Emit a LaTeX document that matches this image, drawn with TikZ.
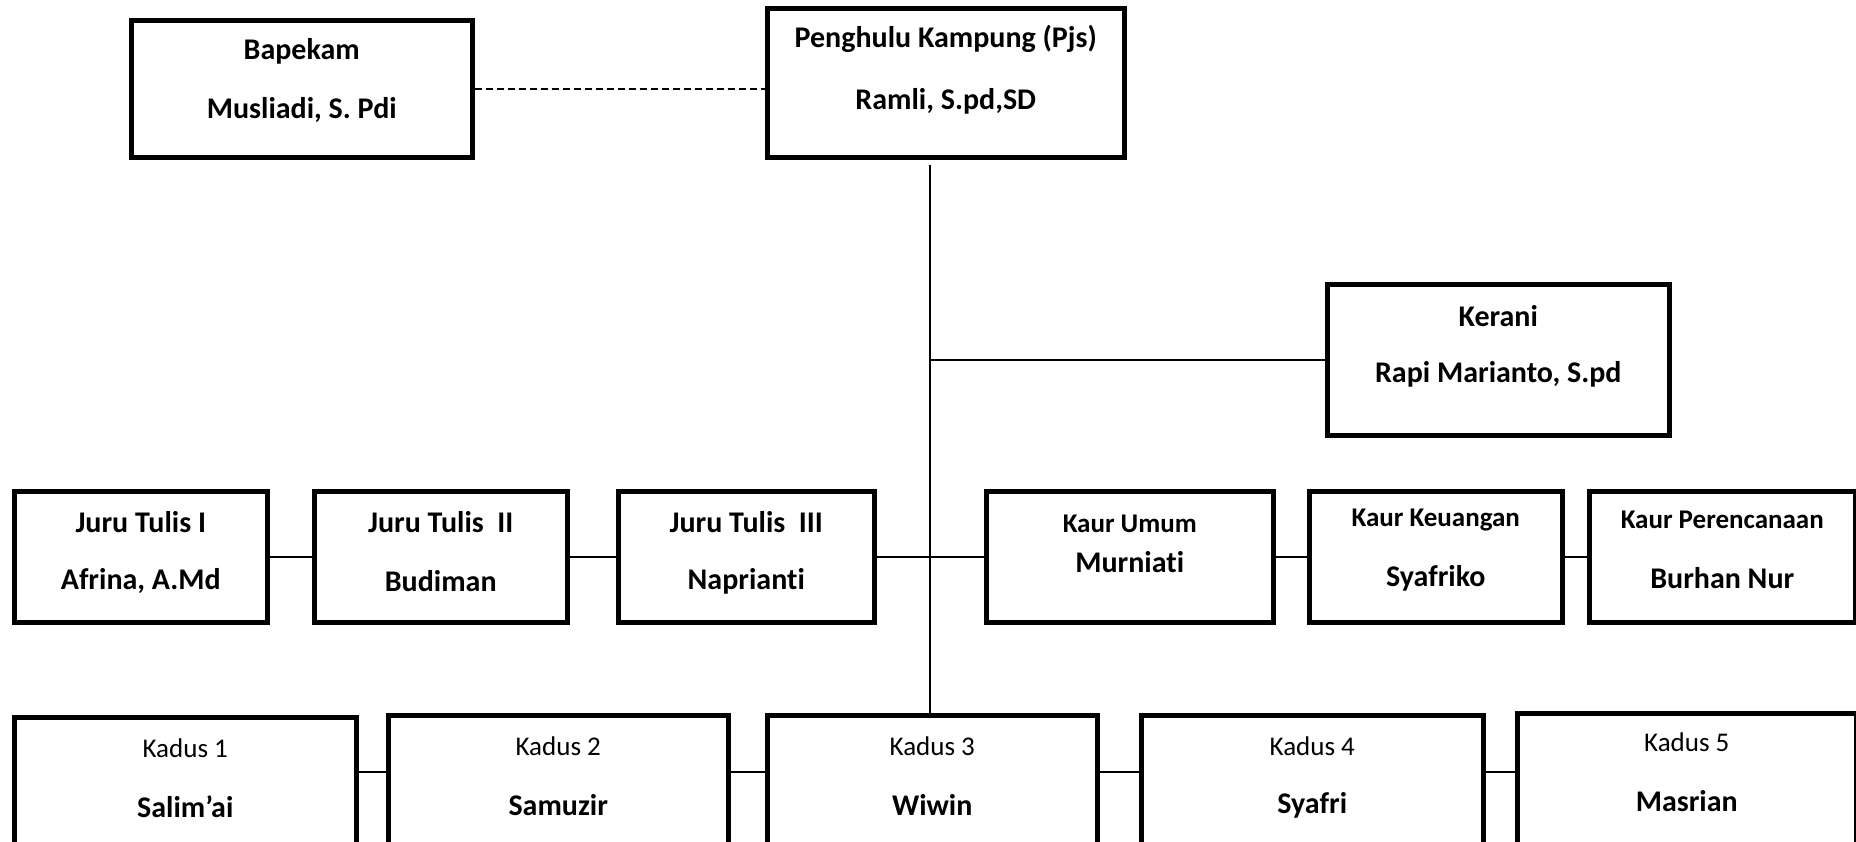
\documentclass[tikz,border=0pt]{standalone}
\usepackage{fontspec}
\setmainfont{Carlito}[RawFeature={-liga;-clig;-calt;-dlig}]
\usetikzlibrary{positioning}

\tikzset{
  box/.style={draw, line width=4.5pt, anchor=north west, inner sep=0pt},
  head/.style={inner sep=0pt, font=\fontsize{30}{36}\selectfont\bfseries},
  kaur/.style={inner sep=0pt, font=\fontsize{27}{32}\selectfont\bfseries},
  dusun/.style={inner sep=0pt, font=\fontsize{27}{32}\selectfont},
  link/.style={line width=1.6pt}
}

\begin{document}
\begin{tikzpicture}[ x=1pt, y=-1pt ]
	  \clip (0,0) rectangle (1856,841);
	  \fill [ white ] (0,0) rectangle (1856,841);

	  % atas
	  \node [ box, minimum width=357pt, minimum height=149pt ] (penghulu) at (765,6) {};
	  \node [ head ] at ([yshift=-33pt]penghulu.north) {Penghulu Kampung (Pjs)};
	  \node [ head ] at ([yshift=-95pt]penghulu.north) {Ramli, S.pd,SD};

	  \node [ box, minimum width=341pt, minimum height=137pt ] (bapekam) at (129,18) {};
	  \node [ head ] at ([yshift=-33pt]bapekam.north) {Bapekam};
	  \node [ head ] at ([yshift=-92pt]bapekam.north) {Musliadi, S. Pdi};

	  \node [ box, minimum width=342pt, minimum height=151pt ] (kerani) at (1325,282) {};
	  \node [ head ] at ([yshift=-34pt]kerani.north) {Kerani};
	  \node [ head ] at ([yshift=-92pt]kerani.north) {Rapi Marianto, S.pd};

	  % juru tulis dan kaur
	  \node [ box, minimum width=253pt, minimum height=131pt ] (tulisA) at (12,489) {};
	  \node [ head ] at ([yshift=-33pt]tulisA.north) {Juru Tulis I};
	  \node [ head ] at ([yshift=-92pt]tulisA.north) {Afrina, A.Md};

	  \node [ box, minimum width=253pt, minimum height=131pt ] (tulisB) at (312,489) {};
	  \node [ head ] at ([yshift=-33pt]tulisB.north) {Juru Tulis\ \ II};
	  \node [ head ] at ([yshift=-92pt]tulisB.north) {Budiman};

	  \node [ box, minimum width=256pt, minimum height=131pt ] (tulisC) at (616,489) {};
	  \node [ head ] at ([yshift=-33pt]tulisC.north) {Juru Tulis\ \ III};
	  \node [ head ] at ([yshift=-92pt]tulisC.north) {Naprianti};

	  \node [ box, minimum width=287pt, minimum height=131pt ] (umum) at (984,489) {};
	  \node [ kaur ] at ([yshift=-35pt]umum.north) {Kaur Umum};
	  \node [ head ] at ([yshift=-73pt]umum.north) {Murniati};

	  \node [ box, minimum width=253pt, minimum height=131pt ] (uang) at (1307,489) {};
	  \node [ kaur ] at ([yshift=-31pt]uang.north) {Kaur Keuangan};
	  \node [ head ] at ([yshift=-89pt]uang.north) {Syafriko};

	  \node [ box, minimum width=266pt, minimum height=131pt ] (rencana) at (1587,489) {};
	  \node [ kaur ] at ([yshift=-31pt]rencana.north) {Kaur Perencanaan};
	  \node [ head ] at ([yshift=-89pt]rencana.north) {Burhan Nur};

	  % kadus
	  \node [ box, minimum width=342pt, minimum height=170pt ] (kadusA) at (12,715) {};
	  \node [ dusun ] at ([yshift=-33pt]kadusA.north) {Kadus 1};
	  \node [ head ] at ([yshift=-92pt]kadusA.north) {Salim’ai};

	  \node [ box, minimum width=340pt, minimum height=170pt ] (kadusB) at (386,713) {};
	  \node [ dusun ] at ([yshift=-33pt]kadusB.north) {Kadus 2};
	  \node [ head ] at ([yshift=-92pt]kadusB.north) {Samuzir};

	  \node [ box, minimum width=330pt, minimum height=170pt ] (kadusC) at (765,713) {};
	  \node [ dusun ] at ([yshift=-33pt]kadusC.north) {Kadus 3};
	  \node [ head ] at ([yshift=-92pt]kadusC.north) {Wiwin};

	  \node [ box, minimum width=342pt, minimum height=170pt ] (kadusD) at (1139,713) {};
	  \node [ dusun ] at ([yshift=-33pt]kadusD.north) {Kadus 4};
	  \node [ head ] at ([yshift=-92pt]kadusD.north) {Syafri};

	  \node [ box, minimum width=339pt, minimum height=170pt ] (kadusE) at (1515,711) {};
	  \node [ dusun ] at ([yshift=-31pt]kadusE.north) {Kadus 5};
	  \node [ head ] at ([yshift=-90pt]kadusE.north) {Masrian};

	  % garis
	  \coordinate (spine) at (930,165);
	  \draw [ link, dash pattern=on 7pt off 4pt ] (bapekam.east) -- (bapekam.east -| penghulu.west);
	  \draw [ link ] (spine) -- (spine |- kadusC.north);
	  \draw [ link ] (spine |- kerani.west) -- (kerani.west);

	  \draw [ link ] (tulisA.east) -- (tulisB.west);
	  \draw [ link ] (tulisB.east) -- (tulisC.west);
	  \draw [ link ] (tulisC.east) -- (umum.west);
	  \draw [ link ] (umum.east) -- (uang.west);
	  \draw [ link ] (uang.east) -- (rencana.west);

	  \coordinate (lajur) at (0,772);
	  \draw [ link ] (kadusA.east |- lajur) -- (kadusB.west |- lajur);
	  \draw [ link ] (kadusB.east |- lajur) -- (kadusC.west |- lajur);
	  \draw [ link ] (kadusC.east |- lajur) -- (kadusD.west |- lajur);
	  \draw [ link ] (kadusD.east |- lajur) -- (kadusE.west |- lajur);
\end{tikzpicture}
\end{document}
